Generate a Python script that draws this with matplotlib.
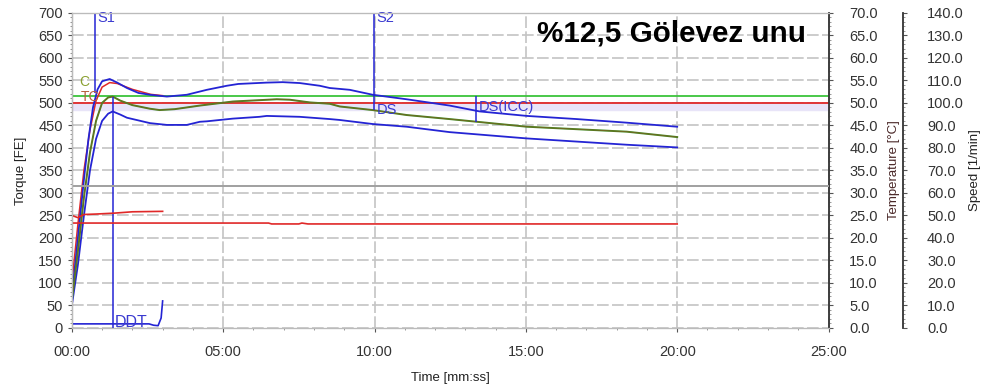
import matplotlib
matplotlib.use("Agg")
import matplotlib.pyplot as plt
from matplotlib.ticker import MultipleLocator, FuncFormatter, FormatStrFormatter

plt.rcParams['font.family'] = ['Liberation Sans', 'DejaVu Sans']

# torque traces [FE] vs time [min]
t_upper = [0, 0.2, 0.4, 0.55, 0.7, 0.85, 1.0, 1.25, 1.5, 1.82, 2.2, 2.58, 3.14, 3.8, 4.46, 5.12, 5.5,
           6.44, 6.97, 7.53, 8.19, 8.52, 9.18, 9.94, 11.06, 12.48, 13.47, 15.03, 16.68, 18.33, 20.0]
tq_upper = [70, 200, 330, 420, 490, 530, 548, 553, 545, 533, 522, 518, 514, 518, 529, 538, 542,
            545, 546, 544, 538, 533, 529, 518, 508, 494, 481, 471, 464, 456, 447]

t_mid = [0, 0.2, 0.4, 0.6, 0.8, 1.0, 1.2, 1.35, 1.6, 2.0, 2.58, 2.9, 3.4, 4.23, 5.32, 6.2, 6.77,
         7.2, 7.86, 8.52, 8.85, 9.94, 11.06, 12.48, 15.03, 18.33, 20.0]
tq_mid = [60, 170, 290, 390, 460, 500, 512, 514, 505, 495, 487, 484, 486, 494, 503, 506, 508,
          507, 501, 498, 492, 484, 473, 464, 447, 436, 424]

t_lower = [0, 0.2, 0.4, 0.6, 0.8, 1.0, 1.2, 1.35, 1.6, 1.82, 2.58, 3.14, 3.8, 4.23, 4.46, 5.32,
           6.2, 6.44, 7.53, 8.52, 8.85, 9.94, 11.06, 12.48, 15.03, 16.68, 18.33, 20.0]
tq_lower = [50, 140, 250, 350, 420, 460, 476, 481, 474, 467, 455, 451, 451, 458, 459, 465,
            469, 471, 469, 464, 462, 453, 447, 435, 421, 414, 407, 401]

# red trace running along the upper band at start
t_red = [0, 0.2, 0.4, 0.6, 0.8, 1.0, 1.25, 1.5, 2.0, 2.6, 3.0]
tq_red = [100, 230, 350, 440, 505, 535, 545, 543, 530, 519, 516]

# dough development line
t_ddt = [0, 2.55, 2.7, 2.85, 2.95, 3.0]
tq_ddt = [9, 9, 6, 5, 22, 60]

# temperatures [°C]
t_temp1 = [0, 6.5, 6.6, 7.5, 7.6, 7.8, 20.0]
temp1 = [23.3, 23.3, 23.1, 23.1, 23.3, 23.1, 23.1]
t_temp2 = [0, 0.2, 0.4, 0.8, 1.4, 2.0, 3.0]
temp2 = [25.0, 24.5, 25.2, 25.3, 25.5, 25.8, 25.9]

# speed [1/min]
t_speed = [0, 25]
speed = [63, 63]

# reference levels
consistency = 515
target = 500
tol_low = 485

blue = '#2424d4'
red = '#e02828'
green = '#3cc43c'

fig = plt.figure(figsize=(9.84, 3.89), dpi=100)
ax = fig.add_axes([0.073, 0.157, 0.769, 0.81])

ax.set_xlim(0, 25)
ax.set_ylim(0, 700)

ax.axhspan(tol_low, target, color='#e8e4f8', zorder=1)
ax.axhline(consistency, color=green, lw=1.3, zorder=3)
ax.axhline(target, color=red, lw=1.3, zorder=3)

ax2 = ax.twinx()
ax2.set_ylim(0, 70)
ax3 = ax.twinx()
ax3.set_ylim(0, 140)
ax3.spines['right'].set_position(('axes', 1.099))

ax3.plot(t_speed, speed, color='#a0a0a0', lw=1.4)
ax2.plot(t_temp1, temp1, color=red, lw=1.2)
ax2.plot(t_temp2, temp2, color=red, lw=1.2)

ax.plot(t_red, tq_red, color=red, lw=1.1, zorder=4)
ax.plot(t_upper, tq_upper, color=blue, lw=1.3, zorder=5)
ax.plot(t_lower, tq_lower, color=blue, lw=1.3, zorder=5)
ax.plot(t_mid, tq_mid, color='#3f8a22', lw=1.4, zorder=5)
ax.plot(t_mid, tq_mid, color='#b04020', lw=0.7, alpha=0.45, zorder=6)
ax.plot(t_ddt, tq_ddt, color=blue, lw=1.2, zorder=5)

# markers
s1, s2, ddt_t, ds_icc = 0.76, 9.97, 1.35, 13.34
ax.vlines(s1, 522, 700, color=blue, lw=1.1, zorder=6)
ax.vlines(ddt_t, 0, 514, color=blue, lw=1.1, zorder=6)
ax.vlines(s2, 484, 700, color=blue, lw=1.1, zorder=6)
ax.vlines(ds_icc, 458, 515, color=blue, lw=1.1, zorder=6)

lab = dict(color='#3a3ad0', fontsize=10.5, va='center', ha='left', zorder=7)
ax.text(s1 + 0.08, 688, 'S1', **lab)
ax.text(s2 + 0.08, 688, 'S2', **lab)
ax.text(s2 + 0.1, 484, 'DS', **lab)
ax.text(ds_icc + 0.12, 490, 'DS(ICC)', **lab)
ax.text(ddt_t + 0.08, 12, 'DDT', color='#3a3ad0', fontsize=11.5, va='center', ha='left', zorder=7)
ax.text(0.25, 547, 'C', color='#8aa030', fontsize=10, va='center', ha='left', zorder=7)
ax.text(0.3, 514, 'TC', color='#b86040', fontsize=10, va='center', ha='left', zorder=7)

ax.text(15.36, 655, '%12,5 Gölevez unu', fontsize=21.3, fontweight='bold', color='black',
        va='center', ha='left', zorder=7)

# grid and ticks
ax.yaxis.set_major_locator(MultipleLocator(50))
ax.yaxis.set_minor_locator(MultipleLocator(10))
ax.xaxis.set_major_locator(MultipleLocator(5))
ax.xaxis.set_minor_locator(MultipleLocator(1))
ax.xaxis.set_major_formatter(FuncFormatter(lambda v, p: '%02d:00' % int(round(v))))
ax.grid(True, which='major', color='#c4c4c4', lw=1.2, ls=(0, (7, 2)))
ax.set_axisbelow(True)

ax2.yaxis.set_major_locator(MultipleLocator(5))
ax2.yaxis.set_minor_locator(MultipleLocator(1))
ax2.yaxis.set_major_formatter(FormatStrFormatter('%.1f'))
ax3.yaxis.set_major_locator(MultipleLocator(10))
ax3.yaxis.set_minor_locator(MultipleLocator(2))
ax3.yaxis.set_major_formatter(FormatStrFormatter('%.1f'))

for a in (ax, ax2, ax3):
    a.tick_params(labelsize=10.5, labelcolor='#333333', color='#555555', length=3)
    a.tick_params(which='minor', length=1.5, color='#888888')
    for sp in a.spines.values():
        sp.set_color('#bbbbbb')
ax.spines['left'].set_color('#333333')
ax2.spines['right'].set_color('#333333')
ax3.spines['right'].set_color('#333333')
ax3.spines['right'].set_linewidth(1.3)
ax2.spines['right'].set_linewidth(1.3)
ax2.tick_params(axis='y', pad=12)
ax3.tick_params(axis='y', pad=14)
ax.tick_params(axis='x', pad=9)

ax.set_ylabel('Torque [FE]', fontsize=9.5, color='#222222', labelpad=8)
ax.set_xlabel('Time [mm:ss]', fontsize=9.5, color='#222222', labelpad=10)
ax2.set_ylabel('Temperature [°C]', fontsize=9.5, color='#4a2828', labelpad=7)
ax3.set_ylabel('Speed [1/min]', fontsize=9.5, color='#222222', labelpad=4)

fig.savefig('out.png', dpi=100)
